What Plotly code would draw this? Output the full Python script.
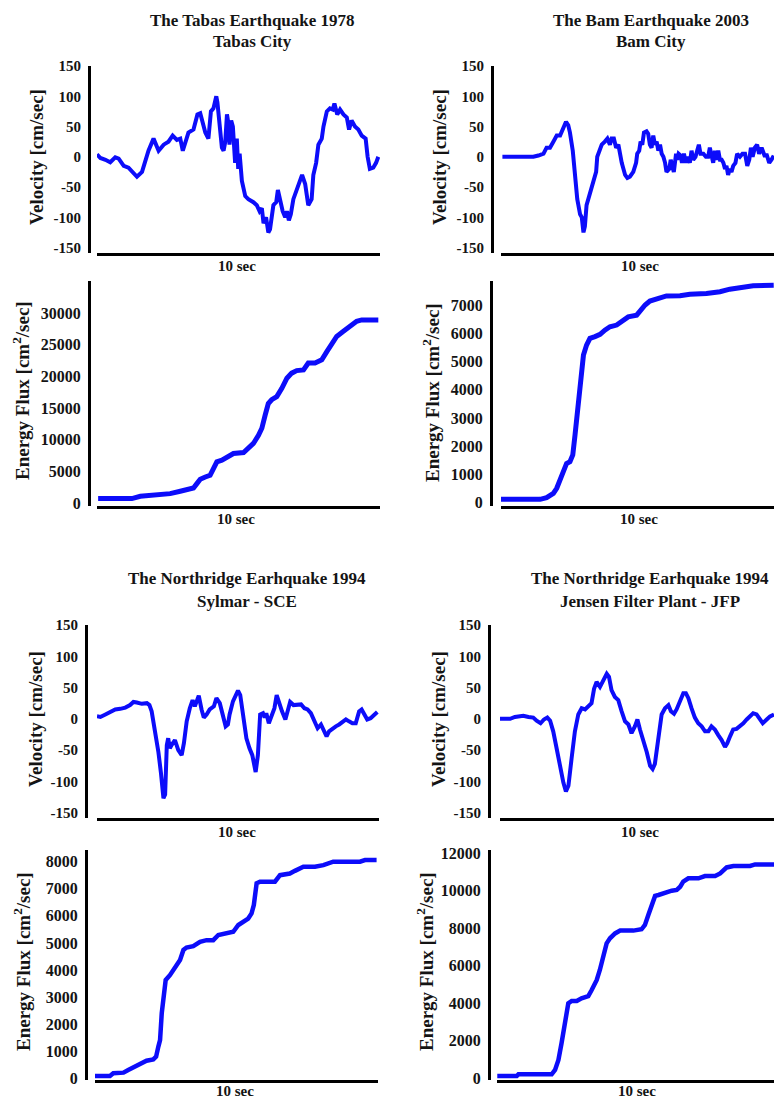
import plotly.graph_objects as go

W, H = 774, 1099

# ---------------- data (time in s, velocity cm/s, energy flux cm^2/s) ----------------
tabas_vel_t = [0.00,0.12,0.30,0.47,0.65,0.77,0.95,1.12,1.42,1.60,1.83,2.01,2.19,2.37,2.54,2.69,2.84,2.96,3.05,3.14,
               3.25,3.43,3.57,3.67,3.76,3.85,3.96,4.05,4.14,4.24,4.28,4.34,4.44,4.50,4.56,4.62,4.67,4.71,4.77,4.83,
               4.91,4.97,5.02,5.07,5.15,5.27,5.38,5.56,5.68,5.78,5.86,5.92,6.01,6.09,6.15,6.27,6.37,6.43,6.51,6.60,
               6.69,6.75,6.82,6.89,6.98,7.10,7.22,7.29,7.40,7.51,7.63,7.69,7.79,7.87,7.99,8.05,8.17,8.28,8.38,8.44,
               8.54,8.64,8.76,8.88,8.96,9.05,9.17,9.29,9.41,9.55,9.62,9.70,9.82,9.92,10.00]
tabas_vel_v = [4,-2,-5,-9,-1,-3,-15,-18,-33,-25,10,30,10,20,25,35,28,30,10,25,
               40,45,70,72,55,40,30,75,80,100,90,60,15,10,25,70,55,20,60,50,
               -10,30,-20,5,-40,-65,-70,-75,-80,-90,-85,-110,-100,-125,-120,-80,-75,-55,-70,-90,
               -100,-90,-105,-95,-70,-55,-40,-30,-45,-80,-70,-30,-10,20,30,50,75,80,78,88,
               70,78,70,65,45,60,50,45,35,30,0,-20,-18,-10,0]

bam_vel_t = [0.00,1.10,1.28,1.46,1.57,1.69,1.81,1.93,2.05,2.17,2.26,2.34,2.40,2.50,2.58,2.66,2.76,2.82,2.88,2.93,
             2.99,3.05,3.11,3.17,3.25,3.33,3.37,3.44,3.53,3.64,3.73,3.82,3.88,3.96,4.04,4.12,4.18,4.24,4.36,4.44,
             4.53,4.65,4.75,4.79,4.86,4.91,4.97,5.03,5.12,5.18,5.24,5.30,5.36,5.42,5.48,5.54,5.60,5.66,5.72,5.78,
             5.83,5.93,5.98,6.05,6.09,6.17,6.21,6.26,6.33,6.38,6.45,6.52,6.58,6.66,6.72,6.78,6.86,6.92,6.98,7.04,
             7.14,7.23,7.31,7.37,7.43,7.49,7.55,7.61,7.67,7.73,7.79,7.85,7.91,7.96,8.02,8.08,8.14,8.20,8.28,8.34,
             8.44,8.53,8.62,8.70,8.77,8.83,8.89,8.97,9.05,9.12,9.21,9.27,9.33,9.38,9.48,9.56,9.64]
bam_vel_v = [0,0,2,5,15,15,25,35,35,50,58,52,40,10,-30,-70,-95,-100,-125,-115,
             -80,-70,-60,-50,-40,-25,0,10,20,25,30,20,30,30,15,20,5,-10,-30,-35,
             -33,-25,-10,5,10,25,20,40,42,38,20,15,35,20,25,10,20,5,0,-10,
             -25,-20,-5,-20,-25,5,-5,5,2,-10,5,-10,0,-10,10,-5,0,10,20,5,
             5,0,0,15,0,-10,10,-5,10,-5,-5,-10,-20,-15,-30,-20,-25,-15,-10,5,
             0,5,5,-15,-5,15,0,15,20,5,15,5,0,5,-10,-5,2]

tabas_en_t = [0.04,1.24,1.54,1.89,2.37,2.60,2.96,3.31,3.43,3.55,3.67,3.85,4.02,4.14,4.26,4.44,4.62,4.85,5.21,5.38,
              5.56,5.74,5.86,5.98,6.09,6.21,6.39,6.57,6.75,6.92,7.10,7.34,7.51,7.75,7.99,8.17,8.34,8.52,8.76,8.99,
              9.23,9.41,10.00]
tabas_en_v = [690,690,1050,1200,1300,1480,1850,2100,2380,3060,3750,4100,4380,5440,6500,6760,7290,7810,7970,8600,
              9400,10700,11800,13900,15700,16300,16800,18100,19700,20500,20900,21000,22100,22100,22600,23900,25200,26300,27100,27900,
              28700,28900,28900]

bam_en_t = [-0.05,1.34,1.57,1.81,1.93,2.05,2.17,2.28,2.40,2.50,2.58,2.66,2.76,2.82,2.88,2.99,3.11,3.29,3.47,3.64,
            3.82,4.06,4.30,4.47,4.77,4.95,5.07,5.24,5.48,5.83,6.31,6.66,7.25,7.73,8.08,8.56,8.91,9.64]
bam_en_v = [118,118,180,330,510,800,1100,1390,1450,1690,2400,3100,4170,4640,5230,5580,5820,5880,5960,6110,
            6230,6290,6470,6580,6640,6880,7000,7140,7230,7320,7330,7380,7410,7470,7560,7610,7680,7700]

sce_vel_t = [0.00,0.12,0.30,0.47,0.65,0.83,1.01,1.18,1.30,1.42,1.60,1.78,1.87,1.95,2.07,2.19,2.28,2.37,2.43,2.49,
             2.54,2.60,2.66,2.78,2.90,3.02,3.10,3.20,3.31,3.41,3.49,3.55,3.63,3.73,3.81,3.91,4.02,4.17,4.26,4.38,
             4.50,4.59,4.67,4.73,4.85,4.95,5.03,5.11,5.21,5.33,5.44,5.54,5.66,5.74,5.82,5.92,5.98,6.04,6.13,6.21,
             6.33,6.41,6.51,6.60,6.72,6.80,6.89,7.01,7.16,7.28,7.40,7.51,7.63,7.75,7.87,7.99,8.11,8.19,8.28,8.40,
             8.52,8.64,8.76,8.88,8.99,9.11,9.23,9.35,9.44,9.53,9.64,9.76,9.88,10.00]
sce_vel_v = [4,3,7,11,15,16,18,22,27,26,24,25,22,12,-20,-53,-86,-127,-121,-42,
             -31,-47,-42,-34,-50,-58,-39,-4,17,30,20,28,37,15,2,7,15,20,33,25,
             2,-12,-9,7,28,38,45,38,9,-31,-47,-58,-85,-58,7,9,2,9,-7,2,
             17,38,22,12,-1,12,27,22,22,23,17,15,9,-4,-15,-9,-23,-28,-20,-15,
             -12,-9,-4,-1,-4,-7,-7,12,15,7,-1,1,7,11]

jfp_vel_t = [0.00,0.18,0.36,0.53,0.71,0.83,1.01,1.18,1.30,1.44,1.56,1.68,1.78,1.89,2.01,2.13,2.25,2.34,2.43,2.54,
             2.66,2.78,2.90,3.02,3.14,3.25,3.34,3.43,3.55,3.67,3.79,3.87,3.96,4.08,4.20,4.32,4.44,4.56,4.67,4.79,
             4.88,4.97,5.09,5.21,5.33,5.42,5.50,5.62,5.74,5.86,5.98,6.07,6.18,6.27,6.39,6.51,6.60,6.69,6.80,6.92,
             7.04,7.16,7.28,7.40,7.51,7.63,7.75,7.87,7.99,8.07,8.17,8.28,8.40,8.52,8.64,8.76,8.88,8.99,9.11,9.23,
             9.33,9.47,9.59,9.73]
jfp_vel_v = [0,0,0,3,4,5,3,2,-3,-7,-1,2,-3,-20,-47,-77,-102,-116,-107,-64,
             -20,7,17,15,20,25,48,59,51,61,72,67,46,35,30,12,-4,-9,-23,-12,
             -1,-17,-34,-53,-75,-80,-72,-34,7,17,22,12,8,15,30,41,41,33,17,2,
             -7,-12,-20,-20,-12,-17,-26,-34,-45,-39,-28,-17,-16,-12,-7,-1,4,9,7,-1,
             -7,-1,4,7]

sce_en_t = [0.00,0.53,0.65,1.01,1.18,1.36,1.60,1.83,2.07,2.17,2.25,2.31,2.37,2.43,2.51,2.66,2.84,3.02,3.14,3.25,
            3.49,3.73,3.96,4.20,4.38,4.73,4.91,5.09,5.33,5.44,5.56,5.64,5.74,5.86,6.09,6.39,6.57,6.92,7.10,7.40,
            7.81,8.11,8.46,9.41,9.59,10.00]
sce_en_v = [86,86,185,210,310,410,530,650,700,800,1170,1410,2400,3010,3630,3810,4060,4370,4740,4830,
            4880,5040,5100,5100,5290,5350,5410,5660,5840,5900,6090,6400,7200,7260,7260,7260,7500,7560,7660,7810,
            7810,7870,8000,8000,8060,8060]

jfp_en_t = [0.00,0.69,0.75,1.93,2.05,2.17,2.28,2.40,2.52,2.64,2.82,2.99,3.23,3.35,3.53,3.64,3.76,3.88,4.00,4.18,
            4.36,4.83,5.12,5.24,5.36,5.48,5.60,5.72,5.95,6.19,6.37,6.49,6.60,6.78,7.14,7.37,7.73,7.91,8.14,8.38,
            8.97,9.15,9.82]
jfp_en_v = [124,124,213,213,445,980,1870,3020,4000,4125,4125,4270,4390,4710,5245,5780,6580,7200,7470,7730,
            7880,7880,7950,8180,8710,9250,9730,9780,9900,10010,10050,10220,10490,10670,10670,10790,10790,10930,11250,11330,
            11330,11410,11410]

vel_ticks = [-150, -100, -50, 0, 50, 100, 150]
tabas_en_ticks = [0, 5000, 10000, 15000, 20000, 25000, 30000]
bam_en_ticks = [0, 1000, 2000, 3000, 4000, 5000, 6000, 7000]
sce_en_ticks = [0, 1000, 2000, 3000, 4000, 5000, 6000, 7000, 8000]
jfp_en_ticks = [0, 2000, 4000, 6000, 8000, 10000, 12000]

titles = [
    ("The Tabas Earthquake 1978", "Tabas City", 252, 20, 41),
    ("The Bam Earthquake 2003", "Bam City", 651, 20, 41),
    ("The Northridge Earhquake 1994", "Sylmar - SCE", 247, 578, 601),
    ("The Northridge Earhquake 1994", "Jensen Filter Plant - JFP", 650, 578, 601),
]

VEL = "Velocity [cm/sec]"
EN = "Energy Flux [cm<sup>2</sup>/sec]"

# layout specs in pixels of the 774x1099 page
panels = [
    dict(t=tabas_vel_t, v=tabas_vel_v, xd=(97, 380), yd=(66, 253), ypos=89, xr=(0.0, 10.06), yr=(-159, 150),
         ticks=vel_ticks, tf=15, lw=4, lab=VEL, labx=37, laby=157, secx=237, secy=266),
    dict(t=bam_vel_t, v=bam_vel_v, xd=(501, 774), yd=(66, 253), ypos=492, xr=(-0.05, 9.65), yr=(-159, 150),
         ticks=vel_ticks, tf=15, lw=4, lab=VEL, labx=440, laby=157, secx=640, secy=266),
    dict(t=tabas_en_t, v=tabas_en_v, xd=(97, 380), yd=(281, 506), ypos=89, xr=(0.0, 10.06), yr=(-475, 35050),
         ticks=tabas_en_ticks, tf=16, lw=5, lab=EN, labx=21, laby=391, secx=236, secy=519),
    dict(t=bam_en_t, v=bam_en_v, xd=(501, 774), yd=(281, 506), ypos=491, xr=(-0.05, 9.65), yr=(-117, 7850),
         ticks=bam_en_ticks, tf=16, lw=5, lab=EN, labx=431, laby=392, secx=639, secy=519),
    dict(t=sce_vel_t, v=sce_vel_v, xd=(97, 379), yd=(625, 818), ypos=86, xr=(0.0, 10.06), yr=(-158.5, 150),
         ticks=vel_ticks, tf=15, lw=4, lab=VEL, labx=35, laby=719, secx=237, secy=832),
    dict(t=jfp_vel_t, v=jfp_vel_v, xd=(500, 774), yd=(625, 818), ypos=489, xr=(0.0, 9.73), yr=(-158.5, 150),
         ticks=vel_ticks, tf=15, lw=4, lab=VEL, labx=438, laby=719, secx=640, secy=832),
    dict(t=sce_en_t, v=sce_en_v, xd=(95, 378), yd=(850, 1080), ypos=86, xr=(0.0, 10.05), yr=(-62, 8430),
         ticks=sce_en_ticks, tf=16, lw=4.5, lab=EN, labx=22, laby=962, secx=235, secy=1091),
    dict(t=jfp_en_t, v=jfp_en_v, xd=(497, 774), yd=(850, 1080), ypos=489, xr=(-0.01, 9.82), yr=(-90, 12180),
         ticks=jfp_en_ticks, tf=16, lw=4.5, lab=EN, labx=425, laby=962, secx=637, secy=1091),
]

FONT = "Liberation Serif"
TXT = "#141414"
BLUE = "rgb(12,12,250)"


def fx(p):
    return p / W


def fy(p):
    return 1 - p / H


fig = go.Figure()
annotations = []
layout = {}

for i, p in enumerate(panels, start=1):
    sfx = "" if i == 1 else str(i)
    fig.add_trace(go.Scatter(
        x=p["t"], y=p["v"], mode="lines",
        line=dict(color=BLUE, width=p["lw"]),
        xaxis="x" + sfx, yaxis="y" + sfx, showlegend=False, hoverinfo="skip",
    ))
    layout["xaxis" + sfx] = dict(
        domain=[fx(p["xd"][0]), fx(p["xd"][1])], range=list(p["xr"]), anchor="y" + sfx,
        showline=True, linecolor="black", linewidth=3, showgrid=False, zeroline=False,
        showticklabels=False, ticks="", automargin=False, fixedrange=True,
    )
    layout["yaxis" + sfx] = dict(
        domain=[fy(p["yd"][1]), fy(p["yd"][0])], range=list(p["yr"]), anchor="free",
        position=fx(p["ypos"]), showline=True, linecolor="black", linewidth=3,
        showgrid=False, zeroline=False, ticks="", automargin=False, fixedrange=True,
        tickvals=p["ticks"], ticktext=[str(v) for v in p["ticks"]],
        tickfont=dict(family=FONT, size=p["tf"], color=TXT, weight="bold"),
        ticklabelstandoff=4,
    )
    annotations.append(dict(
        text="<b>" + p["lab"] + "</b>", x=fx(p["labx"]), y=fy(p["laby"]), xref="paper", yref="paper",
        showarrow=False, textangle=-90, xanchor="center", yanchor="middle",
        font=dict(family=FONT, size=19, color=TXT),
    ))
    annotations.append(dict(
        text="<b>10 sec</b>", x=fx(p["secx"]), y=fy(p["secy"]), xref="paper", yref="paper",
        showarrow=False, xanchor="center", yanchor="middle",
        font=dict(family=FONT, size=15, color=TXT),
    ))

for l1, l2, cx, y1, y2 in titles:
    for txt, yy in ((l1, y1), (l2, y2)):
        annotations.append(dict(
            text="<b>" + txt + "</b>", x=fx(cx), y=fy(yy), xref="paper", yref="paper",
            showarrow=False, xanchor="center", yanchor="middle",
            font=dict(family=FONT, size=17, color=TXT),
        ))

fig.update_layout(
    width=W, height=H, autosize=False,
    margin=dict(l=0, r=0, t=0, b=0, pad=0, autoexpand=False),
    paper_bgcolor="white", plot_bgcolor="white",
    annotations=annotations, showlegend=False,
    **layout,
)

fig.write_html(
    "out.html",
    config={"displayModeBar": False, "responsive": False},
    post_script="document.body.style.margin='0px';document.body.style.overflow='hidden';",
)
